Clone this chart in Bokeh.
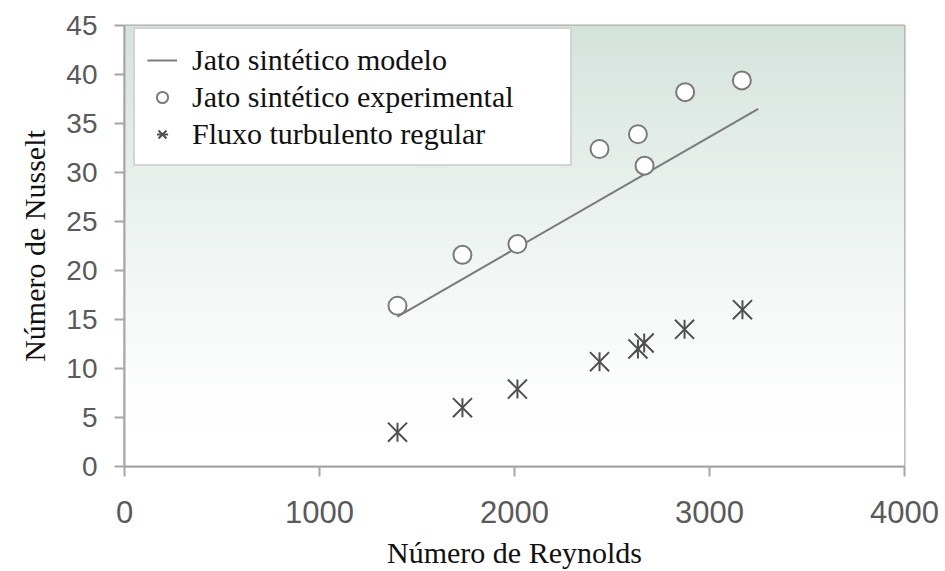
import numpy as np
from bokeh.plotting import figure
from bokeh.models import (Range1d, FixedTicker, Legend, LegendItem)
from bokeh.embed import file_html
from bokeh.resources import INLINE

# Reynolds number of each test case
reynolds = [1400, 1733, 2015, 2436, 2633, 2667, 2875, 3166]
# Nusselt number, synthetic jet experiments
nusselt_jet_exp = [16.4, 21.6, 22.7, 32.4, 33.9, 30.7, 38.2, 39.4]
# Nusselt number, steady turbulent flow
reynolds_steady = [1400, 1733, 2015, 2436, 2633, 2665, 2872, 3169]
nusselt_steady = [3.5, 6.0, 7.9, 10.7, 12.0, 12.6, 14.0, 16.0]
# Synthetic jet model (straight line)
model_re = [1400, 3250]
model_nu = [15.3, 36.5]

x_ticks = [0, 1000, 2000, 3000, 4000]
y_ticks = [0, 5, 10, 15, 20, 25, 30, 35, 40, 45]

p = figure(width=945, height=571, output_backend="svg", toolbar_location=None,
           x_range=Range1d(0, 4000), y_range=Range1d(0, 45),
           min_border_left=124, min_border_right=41,
           min_border_top=25, min_border_bottom=105)

# soft vertical gradient behind the data: teal-grey at the top fading to white
n = 300
frac = np.clip((np.linspace(0, 45, n) - 3.5) / (45 - 3.5), 0, 1) ** 1.25
top = np.array([213, 227, 221])
rows = (255 - (255 - top)[None, :] * frac[:, None]).astype(np.uint8)
img = np.zeros((n, 2), dtype=np.uint32)
view = img.view(dtype=np.uint8).reshape((n, 2, 4))
view[:, :, 0] = rows[:, None, 0]
view[:, :, 1] = rows[:, None, 1]
view[:, :, 2] = rows[:, None, 2]
view[:, :, 3] = 255
p.image_rgba(image=[img], x=0, y=0, dw=4000, dh=45)

p.background_fill_color = "white"
p.border_fill_color = "white"
p.outline_line_color = "#ababab"
p.outline_line_width = 2
p.grid.visible = False

r_line = p.line(model_re, model_nu, line_color="#7a7a7a", line_width=2)
r_circ = p.scatter(reynolds, nusselt_jet_exp, marker="circle", size=18,
                   fill_color="white", line_color="#7a7a7a", line_width=2)
# six-armed star: an "x" crossed by a vertical stroke
r_star_x = p.scatter(reynolds_steady, nusselt_steady, marker="x", size=27,
                     line_color="#505050", line_width=2)
r_star_v = p.scatter(reynolds_steady, nusselt_steady, marker="dash", size=19,
                     angle=np.pi / 2, line_color="#505050", line_width=2)

for ax in (p.xaxis[0], p.yaxis[0]):
    ax.axis_line_color = "#a6a6a6"
    ax.axis_line_width = 2
    ax.major_tick_line_color = "#a6a6a6"
    ax.major_tick_line_width = 2
    ax.major_tick_out = 10
    ax.major_tick_in = 0
    ax.minor_tick_line_color = None
    ax.major_label_text_font = "Liberation Sans"
    ax.major_label_text_color = "#5a5a5a"
    ax.axis_label_text_font = "Liberation Serif"
    ax.axis_label_text_font_style = "normal"
    ax.axis_label_text_font_size = "30px"
    ax.axis_label_text_color = "#111111"

p.xaxis.ticker = FixedTicker(ticks=x_ticks)
p.yaxis.ticker = FixedTicker(ticks=y_ticks)
p.xaxis.major_label_text_font_size = "31px"
p.yaxis.major_label_text_font_size = "28px"
p.xaxis.major_label_standoff = 24
p.yaxis.major_label_standoff = 17
p.xaxis.axis_label = "Número de Reynolds"
p.yaxis.axis_label = "Número de Nusselt"
p.xaxis.axis_label_standoff = 10
p.yaxis.axis_label_standoff = 12

legend = Legend(items=[
    LegendItem(label="Jato sintético modelo", renderers=[r_line]),
    LegendItem(label="Jato sintético experimental", renderers=[r_circ]),
    LegendItem(label="Fluxo turbulento regular", renderers=[r_star_x, r_star_v]),
], location=(9, 300), margin=0, padding=12, spacing=0,
    label_height=37, glyph_height=28, glyph_width=30, label_standoff=15,
    label_width=366,
    label_text_font="Liberation Serif", label_text_font_size="30px",
    label_text_color="#111111",
    border_line_color="#a9a9a9", border_line_width=2,
    background_fill_color="white", background_fill_alpha=1.0)
p.add_layout(legend, "center")

open("out.html", "w").write(file_html(p, INLINE))
